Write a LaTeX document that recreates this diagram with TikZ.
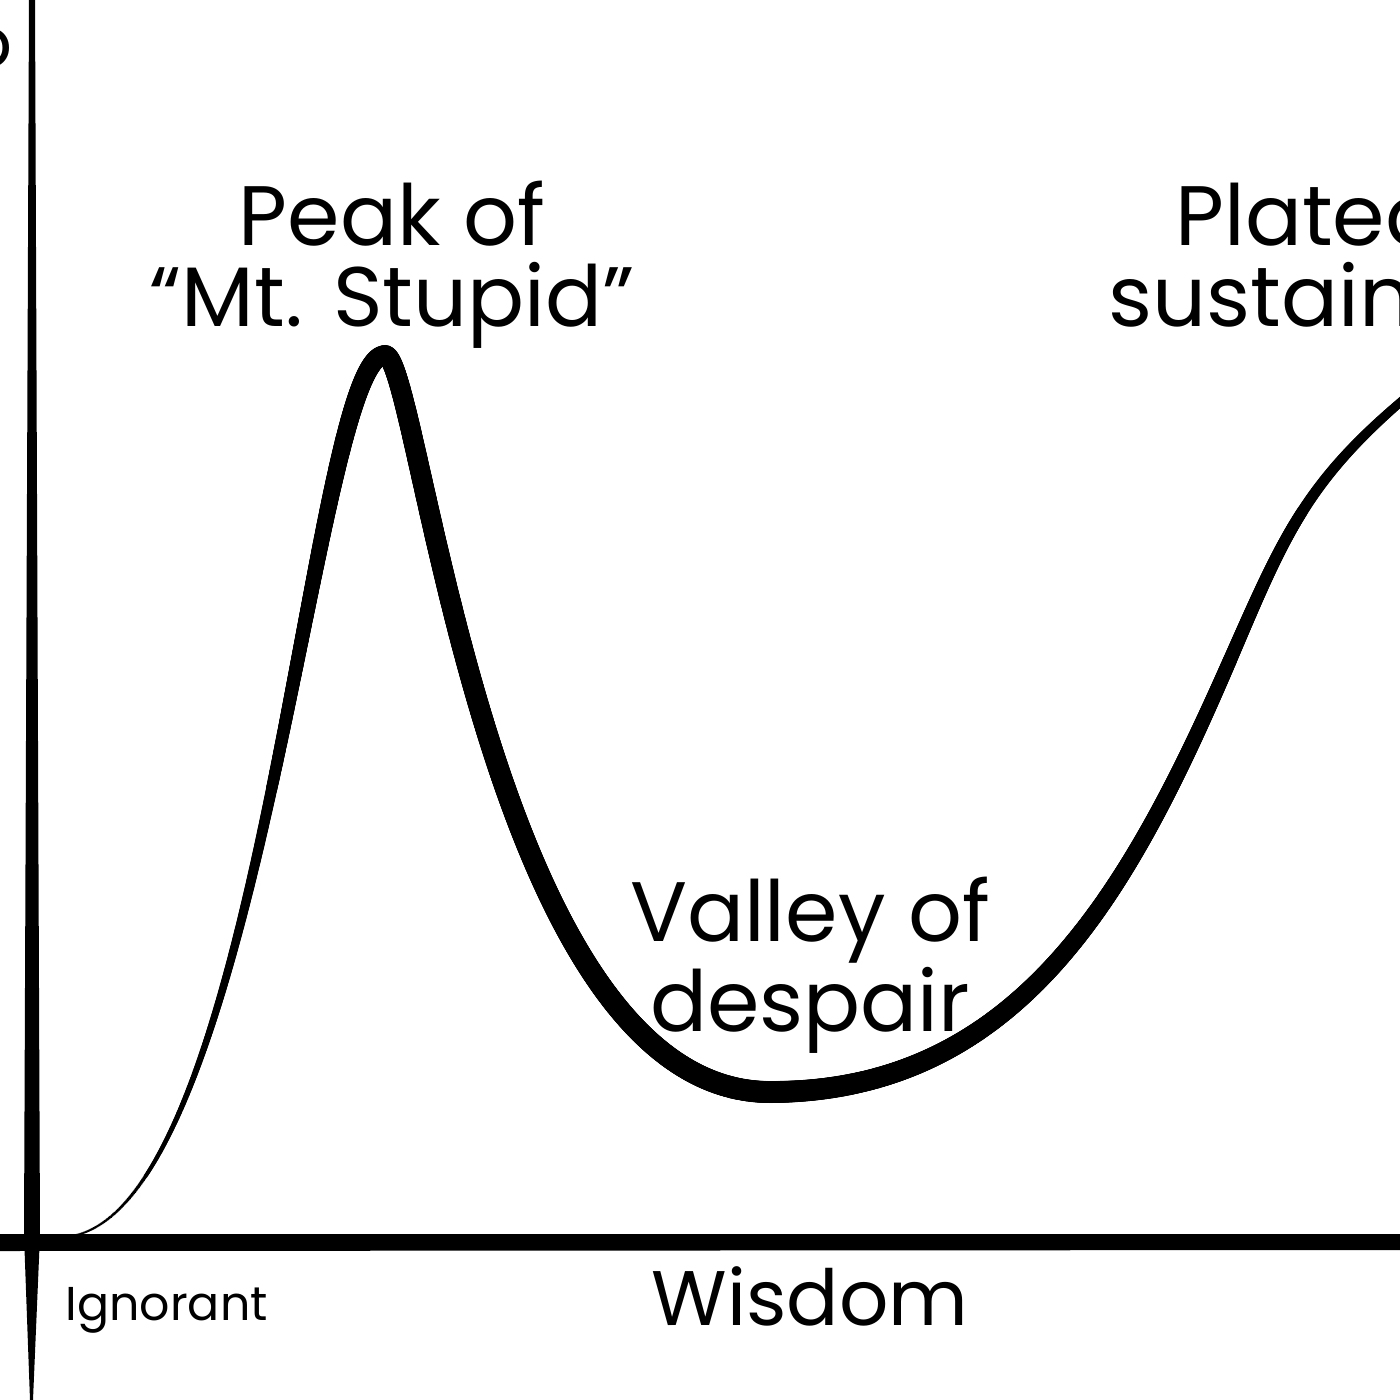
\documentclass[tikz,border=0pt]{standalone}
\usepackage{fontspec}
\setmainfont{Poppins}
\usetikzlibrary{decorations.markings}

\tikzset{
    % stroke whose width goes from #1 to #2 (in px of the sketch)
    brush/.style 2 args={
        decoration={markings,
            mark=between positions 0 and 1 step 0.3pt with {
                \pgfmathsetmacro{\brushr}{0.1423*(#1+(#2-#1)*\pgfkeysvalueof{/pgf/decoration/mark info/distance from start}/\pgfdecoratedpathlength)}
                \fill (0,0) circle (\brushr pt);
            }},
        postaction={decorate}
    }
}

\begin{document}
\begin{tikzpicture}[
            x = 0.01cm, y = -0.01cm, % one unit = one px, y goes down
            hand/.style = {inner sep=0pt, align=center, font=\fontsize{24}{23}\selectfont}
        ]
        \useasboundingbox (0,0) rectangle (1400,1400);
        \clip (0,0) rectangle (1400,1400);

        % axes
        \fill (29,0) -- (35,0) -- (40,1235) -- (33,1400) -- (30,1400) -- (24,1235) -- cycle;
        \fill (0,1234) -- (1400,1234) -- (1400,1250) -- (0,1251) -- cycle;

        % the curve
        \path[brush={2}{20}] (60,1237) .. controls (260,1237) and (312,355) .. (385,355);
        \path[brush={20}{22}] (385,355) .. controls (420,355) and (486,1092) .. (770,1092);
        \path[brush={22}{14}] (770,1092) .. controls (1020,1092) and (1130,890) .. (1230,660);
        \path[brush={14}{8}] (1230,660) .. controls (1290,522) and (1310,470) .. (1450,362);

        \node[hand] (peak) at (392,265) {Peak of\\“Mt. Stupid”};
        \node[hand] (valley) at (810,965) {Valley of\\despair};
        \node[hand] (plateau) at (1388,265) {Plateau of\\sustainability};
        \node[hand, anchor=base, font=\fontsize{22}{22}\selectfont] (wisdom) at (810,1325) {Wisdom};
        \node[hand, anchor=base west, font=\fontsize{13.5}{14}\selectfont] (ignorant) at (65,1320) {Ignorant};
        \node[hand, anchor=base east, font=\fontsize{20}{20}\selectfont] (cut) at (13,68) {o};
\end{tikzpicture}
\end{document}
